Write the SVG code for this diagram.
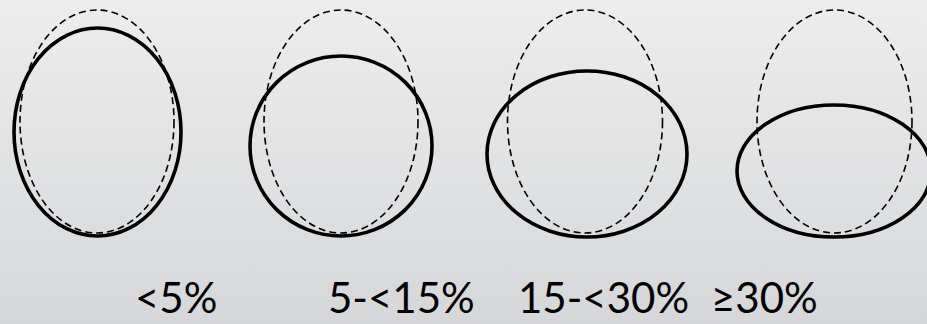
<svg xmlns="http://www.w3.org/2000/svg" width="927" height="324" viewBox="0 0 927 324">
<defs>
<linearGradient id="bg" x1="0" y1="0" x2="0" y2="1">
<stop offset="0" stop-color="#ededee"/>
<stop offset="1" stop-color="#d6d7d8"/>
</linearGradient>
<style>
.orig{fill:none;stroke:#000;stroke-width:1.6;stroke-dasharray:7 4}
.def{fill:none;stroke:#000;stroke-width:3.6}
.lbl{font-family:Lato,"Open Sans","Liberation Sans",sans-serif;font-size:42px;fill:#000}
</style>
</defs>
<rect width="927" height="324" fill="url(#bg)"/>
<g id="node-lt5">
<ellipse class="orig" cx="97" cy="121.5" rx="77" ry="111.5"/>
<ellipse class="def" cx="97.5" cy="132" rx="83.5" ry="104"/>
<text class="lbl" x="135" y="313">&lt;5%</text>
</g>
<g id="node-5to15">
<ellipse class="orig" cx="341" cy="121.5" rx="77" ry="111.5"/>
<ellipse class="def" cx="341" cy="146" rx="91" ry="90"/>
<text class="lbl" x="328" y="313">5-&lt;15%</text>
</g>
<g id="node-15to30">
<ellipse class="orig" cx="585" cy="121.5" rx="77.5" ry="111.5"/>
<ellipse class="def" cx="587" cy="154" rx="100" ry="83"/>
<text class="lbl" x="518" y="313">15-&lt;30%</text>
</g>
<g id="node-ge30">
<ellipse class="orig" cx="834.5" cy="121.5" rx="77.5" ry="111.5"/>
<ellipse class="def" cx="834" cy="171" rx="97" ry="66"/>
<text class="lbl" x="711" y="313">≥30%</text>
</g>
<g id="connectors"/>
</svg>
